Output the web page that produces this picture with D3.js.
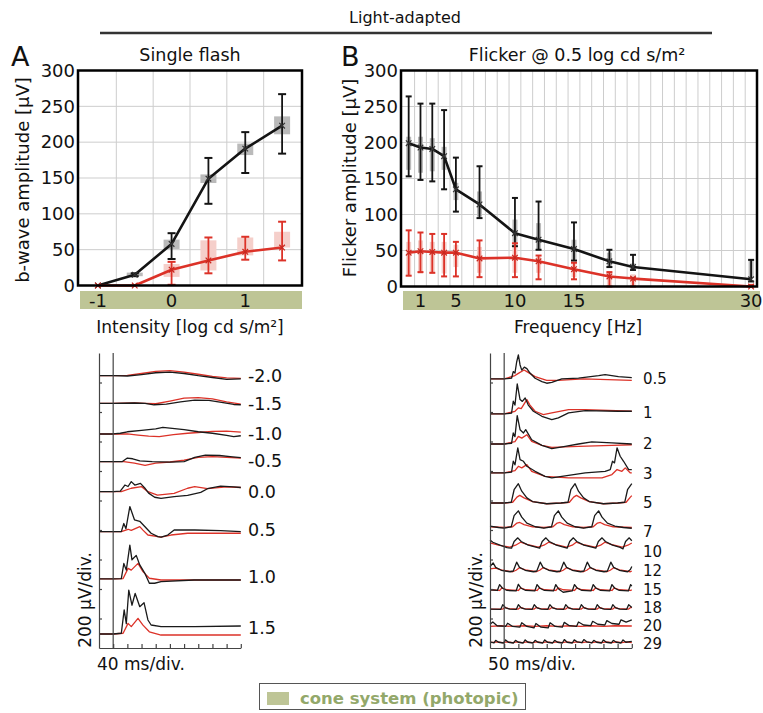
<!DOCTYPE html>
<html>
<head>
<meta charset="utf-8">
<script src="https://cdn.jsdelivr.net/npm/d3@7"></script>
<style>
body { margin: 0; background: #fff; }
text { font-family: "DejaVu Sans", "Liberation Sans", Arial, sans-serif; fill: #111; }
</style>
</head>
<body>
<div id="vis-holder"></div>
<script>
// ---- panel A summary: b-wave amplitude vs flash intensity ----
const intensity = [-1, -0.5, 0, 0.5, 1, 1.5];
const bwBlack = [0, 15, 58, 149, 191, 223];
const bwBlackLo = [0, 13, 37, 114, 157, 184];
const bwBlackHi = [0, 17, 73, 178, 214, 267];
const bwBlackBoxLo = [null, 13, 51, 143, 182, 211];
const bwBlackBoxHi = [null, 18, 64, 155, 198, 236];
const bwRed = [0, 0, 22, 35, 47, 53];
const bwRedLo = [0, 0, 1, 17, 36, 35];
const bwRedHi = [0, 0, 33, 67, 68, 89];
const bwRedBoxLo = [null, null, 12, 21, 42, 53];
const bwRedBoxHi = [null, null, 30, 63, 67, 75];
const intensityTicks = [-1, 0, 1];

// ---- panel B summary: flicker amplitude vs frequency ----
const freqs = [0.5, 1, 2, 3, 5, 7, 10, 12, 15, 18, 20, 29];
const freqPos = [1, 2, 3, 4, 5, 7, 10, 12, 15, 18, 20, 30];
const flBlack = [199, 193, 191, 181, 135, 114, 74, 65, 52, 35, 27, 10];
const flBlackLo = [153, 148, 146, 135, 104, 95, 56, 51, 36, 27, 23, 7];
const flBlackHi = [264, 254, 254, 245, 179, 167, 123, 118, 89, 51, 44, 37];
const flBlackBoxLo = [162, 158, 160, 162, 120, 97, 58, 51, 37, 27, 22, 12];
const flBlackBoxHi = [208, 208, 206, 194, 144, 132, 93, 88, 65, 47, 32, 37];
const flRed = [47, 49, 48, 47, 47, 39, 40, 35, 24, 14, 11, 0];
const flRedLo = [15, 20, 19, 14, 14, 13, 13, 10, 10, 0, 0, 0];
const flRedHi = [78, 75, 73, 73, 62, 64, 60, 43, 33, 20, 12, 2];
const flRedBoxLo = [16, 18, 18, 18, 27, 19, 19, 19, 13, 0, 0, 0];
const flRedBoxHi = [62, 64, 62, 62, 58, 55, 55, 41, 34, 19, 17, 4];
const freqTickPos = [2, 5, 10, 15, 30];
const freqTickLab = ["1", "5", "10", "15", "30"];

const ampTicks = [0, 50, 100, 150, 200, 250, 300];

// ---- single flash traces, [ms, µV] ----
const flashLabels = ["-2.0", "-1.5", "-1.0", "-0.5", "0.0", "0.5", "1.0", "1.5"];
const flashOffset = [1846, 1659, 1451, 1263, 1060, 789, 468, 95];
const flashBlack = [
  [[0,0],[40,0],[80,-2],[120,8],[160,20],[200,25],[240,15],[280,0],[320,-12],[360,-25],[400,-22]],
  [[0,0],[40,0],[100,2],[130,0],[155,-10],[190,-5],[230,10],[270,22],[310,20],[350,5],[380,-8],[400,-10]],
  [[0,0],[40,0],[60,5],[80,15],[120,25],[160,35],[180,45],[200,40],[240,30],[280,15],[320,5],[360,-10],[380,-18],[400,-12]],
  [[0,0],[40,0],[65,0],[80,25],[95,20],[115,5],[150,0],[200,-3],[240,0],[270,30],[300,45],[340,42],[370,35],[400,28]],
  [[0,0],[40,0],[60,3],[73,45],[82,35],[91,68],[101,45],[117,56],[129,25],[140,-10],[157,-38],[175,-45],[212,-34],[250,-25],[287,-5],[306,20],[343,38],[380,32],[400,28]],
  [[0,0],[40,0],[63,0],[70,55],[76,20],[87,170],[100,80],[115,70],[129,35],[147,-11],[166,-34],[175,-38],[194,-23],[212,11],[270,11],[343,7],[400,0]],
  [[0,0],[40,0],[63,3],[70,105],[77,60],[87,230],[93,130],[105,160],[115,95],[129,40],[142,-29],[157,-29],[175,-18],[268,-7],[400,-7]],
  [[0,0],[40,0],[63,5],[71,163],[77,70],[84,298],[93,195],[102,275],[115,185],[127,212],[138,95],[147,61],[175,50],[270,50],[400,54]]
];
const flashRed = [
  [[0,0],[40,0],[80,2],[120,15],[160,30],[200,35],[240,25],[280,10],[320,-5],[360,-15],[400,-18]],
  [[0,0],[40,0],[100,2],[130,0],[160,-3],[200,15],[240,35],[280,38],[320,30],[360,10],[400,-5]],
  [[0,0],[40,0],[80,0],[110,-8],[140,-15],[170,-18],[210,-5],[250,5],[280,10],[320,18],[360,20],[400,12]],
  [[0,0],[40,0],[70,0],[100,-10],[130,-25],[160,-10],[200,-2],[240,10],[280,30],[320,35],[360,30],[400,25]],
  [[0,0],[40,0],[63,0],[91,23],[120,34],[138,0],[165,-23],[212,-12],[250,23],[270,34],[306,20],[360,32],[400,28]],
  [[0,0],[40,0],[63,0],[82,16],[91,8],[115,34],[124,10],[138,-23],[175,-38],[203,-23],[250,-11],[400,-11]],
  [[0,0],[40,0],[68,3],[82,72],[91,60],[110,106],[124,50],[142,5],[175,-7],[400,-7]],
  [[0,0],[40,0],[68,5],[82,72],[91,50],[110,106],[124,60],[142,15],[175,-7],[400,-7]]
];

// ---- flicker traces, [ms, µV] ----
const flickLabels = ["0.5", "1", "2", "3", "5", "7", "10", "12", "15", "18", "20", "29"];
const flickOffset = [1824, 1587, 1383, 1187, 983, 817, 692, 522, 390, 264, 146, 37];
const flickBlack = [
  [[0,0],[50,0],[76,5],[82,50],[88,40],[94,115],[100,163],[106,95],[112,60],[121,80],[130,70],[141,40],[159,5],[183,-18],[200,-29],[218,-23],[253,0],[312,5],[383,22],[406,30],[453,16],[500,9]],
  [[0,0],[50,0],[76,5],[82,86],[88,60],[96,203],[106,97],[114,85],[124,108],[135,60],[153,18],[183,-16],[218,-38],[241,-27],[277,7],[336,23],[453,18],[500,18]],
  [[0,0],[50,0],[76,5],[82,75],[88,50],[96,192],[106,97],[118,75],[126,97],[147,29],[183,-9],[218,-32],[265,-16],[312,0],[359,14],[430,7],[500,0]],
  [[0,0],[50,0],[76,5],[82,79],[88,55],[98,170],[106,90],[118,79],[130,45],[159,11],[194,-23],[218,-34],[277,-16],[336,0],[406,11],[424,22],[432,79],[439,68],[448,170],[459,113],[471,79],[489,22],[500,22]],
  [[0,0],[50,0],[75,5],[85,90],[100,131],[112,80],[130,35],[150,10],[200,-5],[250,0],[275,5],[285,90],[300,131],[312,80],[330,35],[350,10],[400,-5],[450,0],[475,5],[485,90],[500,131]],
  [[0,10],[30,0],[50,-5],[75,5],[85,80],[100,113],[112,70],[130,30],[160,5],[190,-5],[217,5],[227,80],[241,113],[253,70],[272,30],[300,5],[330,-5],[359,5],[369,80],[383,113],[395,70],[414,30],[440,10],[470,0],[500,-5]],
  [[0,40],[10,25],[35,5],[60,-12],[76,-15],[85,30],[98,55],[110,30],[135,5],[165,-10],[175,-15],[184,30],[197,55],[209,30],[234,5],[262,-10],[272,-15],[281,30],[294,55],[306,30],[331,5],[363,-10],[373,-15],[382,30],[395,55],[407,30],[432,5],[459,-10],[469,-20],[478,30],[491,55],[500,35]],
  [[0,30],[11,55],[20,25],[40,5],[70,-5],[82,0],[94,60],[104,25],[124,5],[153,-5],[165,0],[177,60],[187,25],[207,5],[236,-5],[248,0],[260,60],[270,25],[290,5],[319,-5],[331,0],[343,60],[353,25],[373,5],[402,-5],[414,0],[426,60],[436,25],[456,5],[485,-5],[495,10],[500,30]],
  [[0,5],[26,0],[34,40],[44,15],[60,0],[92,-3],[100,42],[110,15],[126,0],[158,-3],[166,40],[176,15],[192,0],[224,-3],[232,40],[242,10],[258,-12],[290,-3],[298,40],[308,15],[324,0],[356,-3],[364,40],[374,15],[390,0],[422,-3],[430,40],[440,15],[456,0],[488,-3],[496,40],[500,30]],
  [[0,0],[38,-2],[45,30],[55,8],[70,0],[93,-2],[100,30],[110,8],[125,0],[149,-2],[156,30],[166,8],[181,0],[204,-2],[211,30],[221,8],[236,0],[260,-2],[267,30],[277,8],[292,0],[315,-2],[322,30],[332,8],[347,0],[371,-2],[378,30],[388,8],[403,0],[426,-2],[433,30],[443,8],[458,0],[482,-2],[489,30],[500,10]],
  [[0,15],[10,30],[25,5],[55,0],[62,22],[80,0],[105,-5],[112,25],[130,0],[155,-10],[162,20],[180,-5],[205,-10],[212,25],[230,0],[255,-5],[262,28],[280,5],[305,0],[312,30],[330,10],[355,5],[362,35],[380,15],[405,10],[412,40],[430,20],[455,15],[462,45],[480,30],[500,45]],
  [[0,5],[14,-3],[20,15],[30,2],[48,-3],[55,18],[65,2],[83,-3],[90,15],[100,2],[117,-3],[124,18],[134,2],[152,-3],[159,15],[169,2],[186,-3],[193,18],[203,2],[221,-3],[228,15],[238,2],[255,-3],[262,20],[272,2],[290,-3],[297,18],[307,5],[324,0],[331,20],[341,5],[359,-3],[366,15],[376,2],[393,-3],[400,18],[410,2],[428,-3],[435,15],[445,2],[462,-3],[469,18],[479,2],[500,8]]
];
const flickRed = [
  [[0,0],[50,0],[88,23],[100,38],[120,61],[130,50],[159,16],[200,-9],[240,-9],[330,0],[500,-9]],
  [[0,0],[50,0],[88,18],[100,41],[110,36],[130,97],[141,60],[159,18],[188,-5],[218,7],[277,29],[336,29],[500,18]],
  [[0,0],[50,0],[88,16],[100,52],[112,40],[130,63],[147,18],[183,-9],[218,-23],[312,-16],[430,-9],[500,-5]],
  [[0,0],[50,0],[88,16],[100,45],[112,34],[130,56],[147,11],[194,-23],[277,-34],[395,-34],[430,-11],[448,23],[465,11],[477,34],[495,0],[500,0]],
  [[0,0],[50,0],[80,5],[95,40],[105,52],[120,35],[150,10],[200,-5],[250,0],[280,5],[295,40],[305,52],[320,35],[350,10],[400,-5],[450,0],[480,5],[495,40],[500,50]],
  [[0,5],[50,0],[80,5],[95,30],[105,34],[120,20],[150,5],[190,0],[222,5],[237,30],[247,34],[262,20],[292,5],[330,0],[364,5],[379,30],[389,34],[404,20],[434,5],[500,0]],
  [[0,20],[30,5],[70,-8],[90,5],[108,25],[130,10],[170,-8],[190,5],[207,25],[229,10],[270,-8],[290,5],[304,25],[326,10],[370,-8],[390,5],[405,25],[427,10],[466,-8],[486,5],[500,20]],
  [[0,15],[20,20],[45,5],[80,-5],[92,5],[104,22],[125,8],[163,-5],[175,5],[187,22],[208,8],[246,-5],[258,5],[270,22],[291,8],[329,-5],[341,5],[353,22],[374,8],[412,-5],[424,5],[436,22],[457,8],[495,-5],[500,0]],
  [[0,5],[34,0],[42,18],[60,5],[100,0],[108,18],[126,5],[166,0],[174,18],[192,5],[232,0],[240,18],[258,5],[298,0],[306,18],[324,5],[364,0],[372,18],[390,5],[430,0],[438,18],[456,5],[496,0],[500,5]],
  [[0,0],[45,0],[53,12],[65,3],[100,0],[108,12],[120,3],[156,0],[164,12],[176,3],[211,0],[219,12],[231,3],[267,0],[275,12],[287,3],[322,0],[330,12],[342,3],[378,0],[386,12],[398,3],[433,0],[441,12],[453,3],[489,0],[497,12],[500,10]],
  [[0,0],[40,5],[80,0],[120,5],[160,0],[200,5],[240,0],[280,5],[320,0],[360,5],[400,0],[440,5],[500,3]],
  [[0,0],[25,5],[45,0],[60,5],[80,0],[95,5],[115,0],[130,5],[150,0],[165,5],[185,0],[200,5],[220,0],[235,5],[255,0],[270,5],[290,0],[305,5],[325,0],[340,5],[360,0],[375,5],[395,0],[410,5],[430,0],[445,5],[465,0],[480,5],[500,0]]
];

const BLACK = "#141414", RED = "#dc3228", GRAYBOX = "#bababa", PINKBOX = "#f5cfca",
      BAND = "#bec596", GRID = "#cdcdcd", LEGEND_TXT = "#93a86a";

const svg = d3.select("#vis-holder")
    .append("svg")
    .attr("width", 763)
    .attr("height", 713);

// header
svg.append("text").attr("x", 405).attr("y", 23).attr("text-anchor", "middle")
    .style("font-size", "16px").text("Light-adapted");
svg.append("line").attr("x1", 100).attr("x2", 712).attr("y1", 33).attr("y2", 33)
    .attr("stroke", "#333").attr("stroke-width", 2.5);

function drawBoxes(g, x, y, xs, s, boxCol, boxW) {
    xs.forEach((xv, i) => {
        if (s.boxLo[i] == null) return;
        g.append("rect")
            .attr("x", x(xv) - boxW / 2).attr("width", boxW)
            .attr("y", y(s.boxHi[i])).attr("height", y(s.boxLo[i]) - y(s.boxHi[i]))
            .attr("fill", boxCol);
    });
}
function drawErr(g, x, y, xs, s, col, capW) {
    xs.forEach((xv, i) => {
        if (s.hi[i] === s.lo[i]) return;
        const cx = x(xv);
        g.append("line").attr("x1", cx).attr("x2", cx).attr("y1", y(s.lo[i])).attr("y2", y(s.hi[i]))
            .attr("stroke", col).attr("stroke-width", 1.8);
        [s.lo[i], s.hi[i]].forEach(v => {
            g.append("line").attr("x1", cx - capW / 2).attr("x2", cx + capW / 2)
                .attr("y1", y(v)).attr("y2", y(v)).attr("stroke", col).attr("stroke-width", 2);
        });
    });
}
function drawLine(g, x, y, xs, s, col) {
    const line = d3.line().x((d, i) => x(xs[i])).y(d => y(d));
    g.append("path").datum(s.mean).attr("d", line).attr("fill", "none")
        .attr("stroke", col).attr("stroke-width", 2.6).attr("stroke-linejoin", "round");
    g.selectAll(null).data(s.mean).join("path")
        .attr("d", (d, i) => {
            const cx = x(xs[i]), cy = y(d), r = 2.8;
            return `M${cx - r},${cy - r}L${cx + r},${cy + r}M${cx - r},${cy + r}L${cx + r},${cy - r}`;
        })
        .attr("stroke", col === BLACK ? "#333" : "#c8281f").attr("stroke-width", 1.2);
}

function summaryPanel(o) {
    const g = svg.append("g");
    const x = o.x, y = o.y;
    const [x0, x1] = x.range(), [yb, yt] = y.range();

    g.append("rect").attr("x", o.band[0]).attr("y", o.band[1])
        .attr("width", o.band[2] - o.band[0]).attr("height", o.band[3] - o.band[1])
        .attr("fill", BAND);

    g.selectAll(".gx").data(o.gridX).join("line").attr("class", "gx")
        .attr("x1", d => x(d)).attr("x2", d => x(d)).attr("y1", yb).attr("y2", yt)
        .attr("stroke", GRID).attr("stroke-width", 1);
    g.selectAll(".gy").data(ampTicks.slice(1, -1)).join("line").attr("class", "gy")
        .attr("x1", x0).attr("x2", x1).attr("y1", d => y(d)).attr("y2", d => y(d))
        .attr("stroke", GRID).attr("stroke-width", 1);

    drawBoxes(g, x, y, o.xs, o.black, GRAYBOX, o.boxW);
    drawBoxes(g, x, y, o.xs, o.red, PINKBOX, o.boxW);
    drawErr(g, x, y, o.xs, o.black, BLACK, o.capW);
    drawErr(g, x, y, o.xs, o.red, RED, o.capW);
    drawLine(g, x, y, o.xs, o.black, BLACK);
    drawLine(g, x, y, o.xs, o.red, RED);

    g.append("rect").attr("x", x0).attr("y", yt).attr("width", x1 - x0).attr("height", yb - yt)
        .attr("fill", "none").attr("stroke", "#000").attr("stroke-width", 2.5);

    // y ticks
    const ya = g.append("g").attr("transform", `translate(${x0},0)`)
        .call(d3.axisLeft(y).tickValues(ampTicks).tickSize(0).tickPadding(3));
    ya.select(".domain").remove();
    ya.selectAll("text").style("font-size", "18px").style("font-family", "DejaVu Sans").attr("fill", "#111");

    // x ticks in the band
    g.selectAll(".xt").data(o.ticks).join("text").attr("class", "xt")
        .attr("x", d => x(d)).attr("y", (o.band[1] + o.band[3]) / 2 + 6.5)
        .attr("text-anchor", "middle").style("font-size", "18px")
        .text((d, i) => o.tickLab[i]);

    g.append("text").attr("x", (x0 + x1) / 2 + o.xlabDx).attr("y", 333).attr("text-anchor", "middle")
        .style("font-size", "17px").text(o.xlab);
    g.append("text").attr("transform", `translate(${o.ylabX},${o.ylabY}) rotate(-90)`)
        .attr("text-anchor", "middle").style("font-size", "18px").text(o.ylab);
    g.append("text").attr("x", o.titleX).attr("y", 61).attr("text-anchor", "middle")
        .style("font-size", "17.5px").text(o.title);
    g.append("text").attr("x", o.letterX).attr("y", 66).style("font-size", "27px").text(o.letter);
}

summaryPanel({
    x: d3.scaleLinear().domain([-1.27, 1.77]).range([78, 302]),
    y: d3.scaleLinear().domain([0, 300]).range([285.5, 70.5]),
    xs: intensity,
    gridX: [-0.75, -0.25, 0.25, 0.75, 1.25],
    band: [80, 291, 302, 309],
    ticks: intensityTicks, tickLab: intensityTicks.map(String),
    black: { mean: bwBlack, lo: bwBlackLo, hi: bwBlackHi, boxLo: bwBlackBoxLo, boxHi: bwBlackBoxHi },
    red: { mean: bwRed, lo: bwRedLo, hi: bwRedHi, boxLo: bwRedBoxLo, boxHi: bwRedBoxHi },
    boxW: 16, capW: 8,
    xlab: "Intensity [log cd s/m²]", xlabDx: 0,
    ylab: "b-wave amplitude [μV]", ylabX: 29, ylabY: 180,
    title: "Single flash", titleX: 190,
    letter: "A", letterX: 11
});

summaryPanel({
    x: d3.scaleLinear().domain([0.35, 30.5]).range([401, 757]),
    y: d3.scaleLinear().domain([0, 300]).range([286.5, 70.5]),
    xs: freqPos,
    gridX: d3.range(1.5, 30, 1),
    band: [403, 291, 760, 310],
    ticks: freqTickPos, tickLab: freqTickLab,
    black: { mean: flBlack, lo: flBlackLo, hi: flBlackHi, boxLo: flBlackBoxLo, boxHi: flBlackBoxHi },
    red: { mean: flRed, lo: flRedLo, hi: flRedHi, boxLo: flRedBoxLo, boxHi: flRedBoxHi },
    boxW: 5, capW: 6,
    xlab: "Frequency [Hz]", xlabDx: -1,
    ylab: "Flicker amplitude [μV]", ylabX: 356, ylabY: 178,
    title: "Flicker @ 0.5 log cd s/m²", titleX: 577,
    letter: "B", letterX: 341
});

// ---- trace panels ----
function tracePanel(o) {
    const g = svg.append("g");
    const x = d3.scaleLinear().domain([0, o.tMax]).range([o.x0, o.x0 + 141.8]);
    const y = d3.scaleLinear().domain([0, 2000]).range([648, 353]);

    const line = d3.line().x(d => x(d[0]));
    o.red.forEach((tr, i) => {
        g.append("path").datum(tr)
            .attr("d", line.y(d => y(o.offset[i] + d[1])))
            .attr("fill", "none").attr("stroke", RED).attr("stroke-width", 1.3)
            .attr("stroke-linejoin", "round");
    });
    o.black.forEach((tr, i) => {
        g.append("path").datum(tr)
            .attr("d", line.y(d => y(o.offset[i] + d[1])))
            .attr("fill", "none").attr("stroke", "#1a1a1a").attr("stroke-width", 1.3)
            .attr("stroke-linejoin", "round");
    });

    g.append("g").attr("transform", `translate(${o.x0},0)`)
        .call(d3.axisRight(y).tickValues(d3.range(200, 2000, 200)).tickSize(3).tickSizeOuter(0).tickFormat(""));
    g.append("g").attr("transform", "translate(0,648)")
        .call(d3.axisTop(x).tickValues(d3.range(o.tStep, o.tMax + 1, o.tStep)).tickSize(4).tickSizeOuter(0).tickFormat(""));
    g.selectAll(".domain, .tick line").attr("stroke", "#444").attr("stroke-width", 1.2);

    g.append("line").attr("x1", x(o.stim)).attr("x2", x(o.stim)).attr("y1", 648).attr("y2", 353)
        .attr("stroke", "#444").attr("stroke-width", 1.2);

    g.selectAll(".lab").data(o.labels).join("text").attr("class", "lab")
        .attr("x", o.labX).attr("y", (d, i) => o.labY[i])
        .attr("dominant-baseline", "central")
        .style("font-size", o.labSize).text(d => d);

    g.append("text").attr("x", o.x0 - 2).attr("y", 670).style("font-size", "17px").text(o.tLabel);
    g.append("text").attr("transform", `translate(${o.x0 - 8},600) rotate(-90)`)
        .attr("text-anchor", "middle").style("font-size", "17px").text("200 μV/div.");
}

tracePanel({ x0: 99, tMax: 400, tStep: 40, stim: 40, labels: flashLabels, offset: flashOffset,
    black: flashBlack, red: flashRed, labX: 248, labSize: "17.5px",
    labY: [376, 404, 434, 461, 492, 530, 577, 628], tLabel: "40 ms/div." });
tracePanel({ x0: 490, tMax: 500, tStep: 50, stim: 50, labels: flickLabels, offset: flickOffset,
    black: flickBlack, red: flickRed, labX: 643, labSize: "15px",
    labY: [379, 413, 444, 474, 503, 532, 552, 571, 590, 608, 626, 644], tLabel: "50 ms/div." });

// ---- legend ----
svg.append("rect").attr("x", 259.5).attr("y", 683.5).attr("width", 266).attr("height", 26)
    .attr("fill", "#fff").attr("stroke", "#555").attr("stroke-width", 1);
svg.append("rect").attr("x", 267).attr("y", 692).attr("width", 22).attr("height", 13).attr("fill", BAND);
svg.append("text").attr("x", 300).attr("y", 703.5).style("font-size", "16.5px").style("font-weight", "bold")
    .style("fill", LEGEND_TXT).text("cone system (photopic)");
</script>
</body>
</html>
